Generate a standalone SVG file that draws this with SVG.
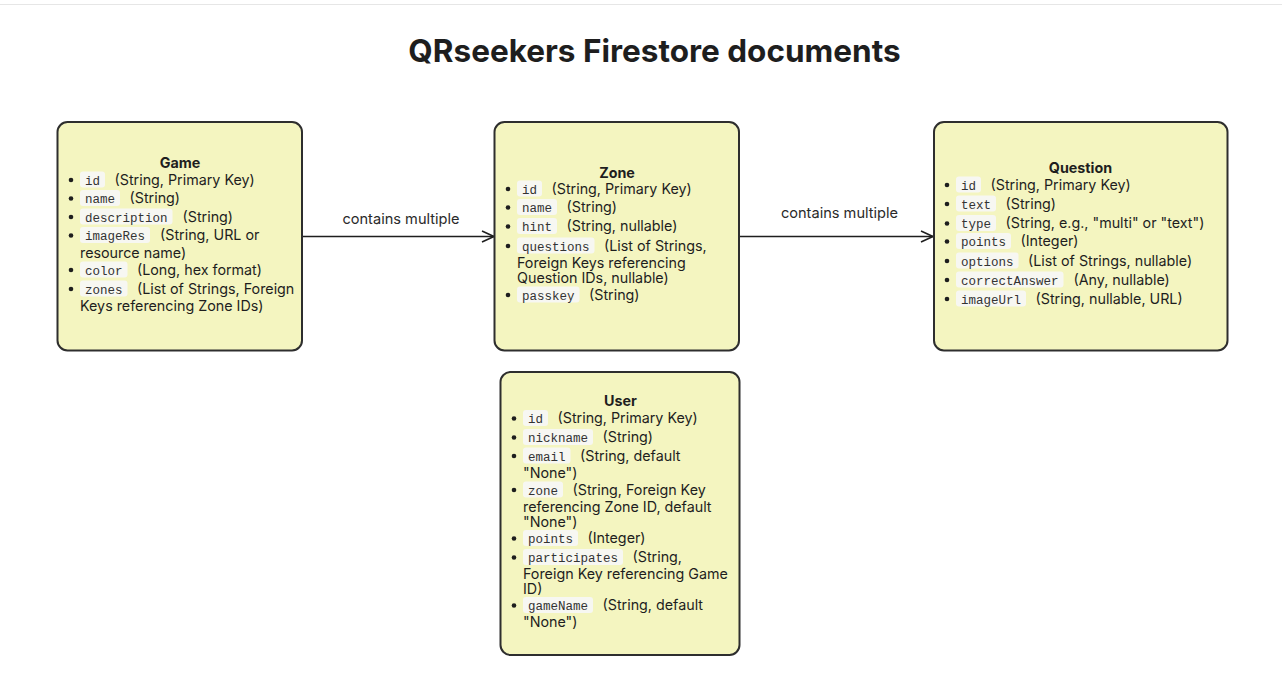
<svg xmlns="http://www.w3.org/2000/svg" width="1282" height="699" viewBox="0 0 1282 699">
<style>
.box{fill:#f4f5c0;stroke:#2e2e2e;stroke-width:2}
.h{font-family:Inter,"Liberation Sans",sans-serif;font-size:14.3px;font-weight:700;fill:#1e1e1e;text-anchor:middle}
.t{font-family:Inter,"Liberation Sans",sans-serif;font-size:14.3px;fill:#1e1e1e}
.c{font-family:"Liberation Mono","DejaVu Sans Mono",monospace;font-size:12.5px;fill:#333}
.cb{fill:#f7f7f2}
.bul{fill:#1e1e1e}
.lbl{font-family:Inter,"Liberation Sans",sans-serif;font-size:14.6px;fill:#2a2a2a;text-anchor:middle}
.edge{stroke:#1e1e1e;stroke-width:1.6;fill:none}
</style>
<defs>
<marker id="arr" markerUnits="userSpaceOnUse" markerWidth="16" markerHeight="14" refX="14" refY="7" orient="auto">
<path d="M2,1.5 L14,7 L2,12.5" fill="none" stroke="#1e1e1e" stroke-width="1.6"/>
</marker>
</defs>
<rect width="1282" height="699" fill="#ffffff"/>
<line x1="0" y1="4.5" x2="1282" y2="4.5" stroke="#e6e6e6" stroke-width="1"/>
<text x="654.5" y="62" font-family="Inter,'Liberation Sans',sans-serif" font-size="31.5" font-weight="700" fill="#1e1e1e" text-anchor="middle">QRseekers Firestore documents</text>

<g id="edges">
<line class="edge" x1="303" y1="236.5" x2="494" y2="236.5" marker-end="url(#arr)"/>
<text class="lbl" x="401" y="223.5">contains multiple</text>
<line class="edge" x1="740" y1="236.5" x2="933" y2="236.5" marker-end="url(#arr)"/>
<text class="lbl" x="839.5" y="217.5">contains multiple</text>
</g>

<g id="game">
<rect class="box" x="57.5" y="122" width="244.5" height="228.5" rx="10"/>
<text class="h" x="180" y="168">Game</text>
<circle class="bul" cx="71" cy="180" r="2.3"/>
<rect class="cb" x="80" y="171.5" width="25" height="16" rx="3"/>
<text class="c" x="85" y="184.5">id</text>
<text class="t" x="114.5" y="184.5">(String, Primary Key)</text>
<circle class="bul" cx="71" cy="198.5" r="2.3"/>
<rect class="cb" x="80" y="190" width="40" height="16" rx="3"/>
<text class="c" x="85" y="203">name</text>
<text class="t" x="129.5" y="203">(String)</text>
<circle class="bul" cx="71" cy="217" r="2.3"/>
<rect class="cb" x="80" y="208.5" width="92.5" height="16" rx="3"/>
<text class="c" x="85" y="221.5">description</text>
<text class="t" x="182.5" y="221.5">(String)</text>
<circle class="bul" cx="71" cy="235.5" r="2.3"/>
<rect class="cb" x="80" y="227" width="70" height="16" rx="3"/>
<text class="c" x="85" y="240">imageRes</text>
<text class="t" x="160" y="240">(String, URL or</text>
<text class="t" x="80" y="257.5">resource name)</text>
<circle class="bul" cx="71" cy="270" r="2.3"/>
<rect class="cb" x="80" y="261.5" width="47.5" height="16" rx="3"/>
<text class="c" x="85" y="274.5">color</text>
<text class="t" x="137" y="274.5">(Long, hex format)</text>
<circle class="bul" cx="71" cy="289" r="2.3"/>
<rect class="cb" x="80" y="280.5" width="47.5" height="16" rx="3"/>
<text class="c" x="85" y="293.5">zones</text>
<text class="t" x="137" y="293.5">(List of Strings, Foreign</text>
<text class="t" x="80" y="311">Keys referencing Zone IDs)</text>
</g>

<g id="zone">
<rect class="box" x="494.5" y="122" width="244.5" height="228.5" rx="10"/>
<text class="h" x="617" y="177.5">Zone</text>
<circle class="bul" cx="508" cy="189" r="2.3"/>
<rect class="cb" x="517" y="180.5" width="25" height="16" rx="3"/>
<text class="c" x="522" y="193.5">id</text>
<text class="t" x="551.5" y="193.5">(String, Primary Key)</text>
<circle class="bul" cx="508" cy="207.5" r="2.3"/>
<rect class="cb" x="517" y="199" width="40" height="16" rx="3"/>
<text class="c" x="522" y="212">name</text>
<text class="t" x="566.5" y="212">(String)</text>
<circle class="bul" cx="508" cy="226.5" r="2.3"/>
<rect class="cb" x="517" y="218" width="40" height="16" rx="3"/>
<text class="c" x="522" y="231">hint</text>
<text class="t" x="566.5" y="231">(String, nullable)</text>
<circle class="bul" cx="508" cy="246" r="2.3"/>
<rect class="cb" x="517" y="237.5" width="77.5" height="16" rx="3"/>
<text class="c" x="522" y="250.5">questions</text>
<text class="t" x="604" y="250.5">(List of Strings,</text>
<text class="t" x="517" y="267.5">Foreign Keys referencing</text>
<text class="t" x="517" y="283">Question IDs, nullable)</text>
<circle class="bul" cx="508" cy="295" r="2.3"/>
<rect class="cb" x="517" y="286.5" width="62.5" height="16" rx="3"/>
<text class="c" x="522" y="299.5">passkey</text>
<text class="t" x="589" y="299.5">(String)</text>
</g>

<g id="question">
<rect class="box" x="934" y="122" width="293.5" height="228.5" rx="10"/>
<text class="h" x="1080.5" y="173">Question</text>
<circle class="bul" cx="947" cy="185" r="2.3"/>
<rect class="cb" x="956" y="176.5" width="25" height="16" rx="3"/>
<text class="c" x="961" y="189.5">id</text>
<text class="t" x="990.5" y="189.5">(String, Primary Key)</text>
<circle class="bul" cx="947" cy="204" r="2.3"/>
<rect class="cb" x="956" y="195.5" width="40" height="16" rx="3"/>
<text class="c" x="961" y="208.5">text</text>
<text class="t" x="1005.5" y="208.5">(String)</text>
<circle class="bul" cx="947" cy="223.5" r="2.3"/>
<rect class="cb" x="956" y="215" width="40" height="16" rx="3"/>
<text class="c" x="961" y="228">type</text>
<text class="t" x="1005.5" y="228">(String, e.g., "multi" or "text")</text>
<circle class="bul" cx="947" cy="241.5" r="2.3"/>
<rect class="cb" x="956" y="233" width="55" height="16" rx="3"/>
<text class="c" x="961" y="246">points</text>
<text class="t" x="1020.5" y="246">(Integer)</text>
<circle class="bul" cx="947" cy="261" r="2.3"/>
<rect class="cb" x="956" y="252.5" width="62.5" height="16" rx="3"/>
<text class="c" x="961" y="265.5">options</text>
<text class="t" x="1028" y="265.5">(List of Strings, nullable)</text>
<circle class="bul" cx="947" cy="280" r="2.3"/>
<rect class="cb" x="956" y="271.5" width="107.5" height="16" rx="3"/>
<text class="c" x="961" y="284.5">correctAnswer</text>
<text class="t" x="1073.5" y="284.5">(Any, nullable)</text>
<circle class="bul" cx="947" cy="299" r="2.3"/>
<rect class="cb" x="956" y="290.5" width="70" height="16" rx="3"/>
<text class="c" x="961" y="303.5">imageUrl</text>
<text class="t" x="1035.5" y="303.5">(String, nullable, URL)</text>
</g>

<g id="user">
<rect class="box" x="500.5" y="372" width="239" height="283" rx="10"/>
<text class="h" x="620.5" y="406">User</text>
<circle class="bul" cx="514" cy="418.5" r="2.3"/>
<rect class="cb" x="523" y="410" width="25" height="16" rx="3"/>
<text class="c" x="528" y="423">id</text>
<text class="t" x="557.5" y="423">(String, Primary Key)</text>
<circle class="bul" cx="514" cy="437.5" r="2.3"/>
<rect class="cb" x="523" y="429" width="70" height="16" rx="3"/>
<text class="c" x="528" y="442">nickname</text>
<text class="t" x="602.5" y="442">(String)</text>
<circle class="bul" cx="514" cy="456" r="2.3"/>
<rect class="cb" x="523" y="447.5" width="47.5" height="16" rx="3"/>
<text class="c" x="528" y="460.5">email</text>
<text class="t" x="580" y="460.5">(String, default</text>
<text class="t" x="523" y="477.5">"None")</text>
<circle class="bul" cx="514" cy="490" r="2.3"/>
<rect class="cb" x="523" y="481.5" width="40" height="16" rx="3"/>
<text class="c" x="528" y="494.5">zone</text>
<text class="t" x="572.5" y="494.5">(String, Foreign Key</text>
<text class="t" x="523" y="511.5">referencing Zone ID, default</text>
<text class="t" x="523" y="526.5">"None")</text>
<circle class="bul" cx="514" cy="538.5" r="2.3"/>
<rect class="cb" x="523" y="530" width="55" height="16" rx="3"/>
<text class="c" x="528" y="543">points</text>
<text class="t" x="587.5" y="543">(Integer)</text>
<circle class="bul" cx="514" cy="557.5" r="2.3"/>
<rect class="cb" x="523" y="549" width="100" height="16" rx="3"/>
<text class="c" x="528" y="562">participates</text>
<text class="t" x="632.5" y="562">(String,</text>
<text class="t" x="523" y="579">Foreign Key referencing Game</text>
<text class="t" x="523" y="594">ID)</text>
<circle class="bul" cx="514" cy="605.5" r="2.3"/>
<rect class="cb" x="523" y="597" width="70" height="16" rx="3"/>
<text class="c" x="528" y="610">gameName</text>
<text class="t" x="602.5" y="610">(String, default</text>
<text class="t" x="523" y="627">"None")</text>
</g>
</svg>
